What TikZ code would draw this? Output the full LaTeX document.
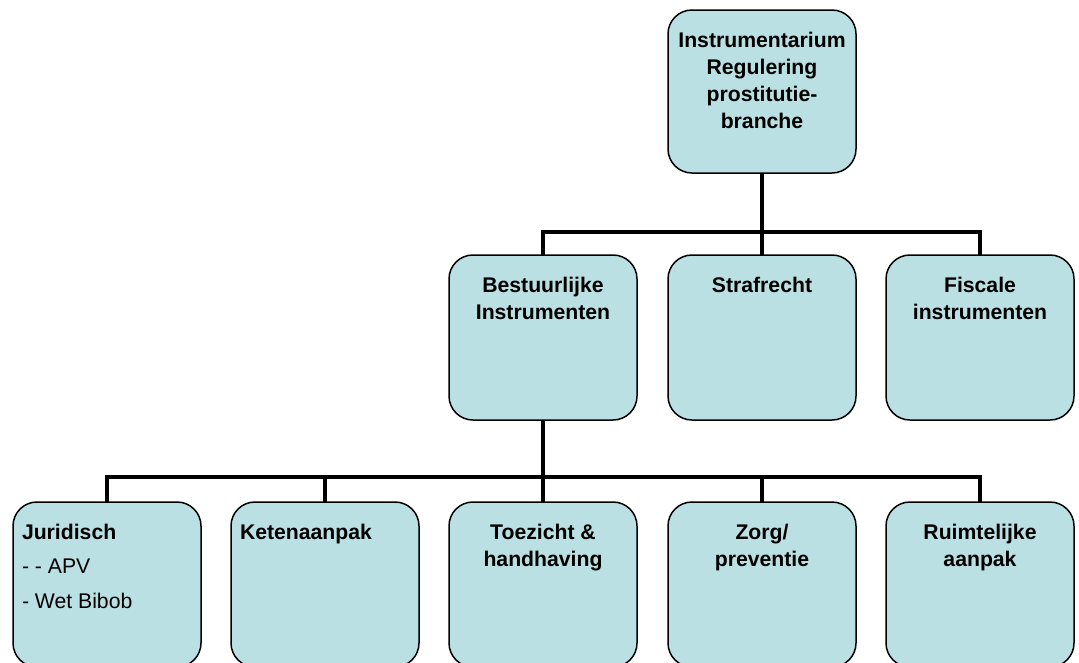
\documentclass[tikz,border=0pt]{standalone}
\usepackage{fontspec}
\setmainfont{Liberation Sans}
\definecolor{boxfill}{RGB}{187,224,227}
\newcommand{\ctxt}[2]{\vbox to #1{\hsize=188pt\parindent=0pt\centering\fontsize{21.2}{27}\selectfont\bfseries\vskip 22pt\noindent #2\par\vfill}}
\newcommand{\ltxt}[2]{\vbox to #1{\hsize=188pt\parindent=0pt\fontsize{21.2}{27}\selectfont\vskip 22pt\noindent\hskip 9pt #2\par\vfill}}
\begin{document}
\begin{tikzpicture}[x=1pt,y=-1pt,
  orgbox/.style={draw=black,line width=1.5pt,fill=boxfill,rounded corners=24pt,inner sep=0pt,outer sep=0pt,minimum width=188pt},
  conn/.style={line width=4.5pt,draw=black}]
\useasboundingbox (0,0) rectangle (1079,662);
\clip (0,0) rectangle (1079,662);
% top
\node[orgbox,minimum height=163pt] (top) at (762,91.5) {\ctxt{163pt}{Instrumentarium\\Regulering\\prostitutie-\\branche}};
% middle row
\node[orgbox,minimum height=165pt] (best) at (543,337.5) {\ctxt{165pt}{Bestuurlijke\\Instrumenten}};
\node[orgbox,minimum height=165pt] (straf) at (762,337.5) {\ctxt{165pt}{Strafrecht}};
\node[orgbox,minimum height=165pt] (fisc) at (980,337.5) {\ctxt{165pt}{Fiscale\\instrumenten}};
% bottom row
\node[orgbox,minimum height=165pt] (jur) at (107,584.5) {\vbox to 165pt{\hsize=188pt\parindent=0pt\fontsize{21.2}{27}\selectfont\vskip 22pt
  \noindent\hskip 9pt\textbf{Juridisch}\par\vskip 7pt
  \noindent\hskip 9pt - - APV\par\vskip 8pt
  \noindent\hskip 9pt - Wet Bibob\par\vfill}};
\node[orgbox,minimum height=165pt] (keten) at (325,584.5) {\ltxt{165pt}{\textbf{Ketenaanpak}}};
\node[orgbox,minimum height=165pt] (toez) at (543,584.5) {\ctxt{165pt}{Toezicht \&\\handhaving}};
\node[orgbox,minimum height=165pt] (zorg) at (762,584.5) {\ctxt{165pt}{Zorg/\\preventie}};
\node[orgbox,minimum height=165pt] (ruim) at (980,584.5) {\ctxt{165pt}{Ruimtelijke\\aanpak}};
% buses
\coordinate (busA) at (0,232);
\coordinate (busB) at (0,477);
\draw[conn] (top.south) -- (top.south |- busA);
\draw[conn] (best.north) -- (best.north |- busA) -- (fisc.north |- busA) -- (fisc.north);
\draw[conn] (straf.north) -- (straf.north |- busA);
\draw[conn] (best.south) -- (best.south |- busB);
\draw[conn] (jur.north) -- (jur.north |- busB) -- (ruim.north |- busB) -- (ruim.north);
\draw[conn] (keten.north) -- (keten.north |- busB);
\draw[conn] (toez.north) -- (toez.north |- busB);
\draw[conn] (zorg.north) -- (zorg.north |- busB);
\end{tikzpicture}
\end{document}
